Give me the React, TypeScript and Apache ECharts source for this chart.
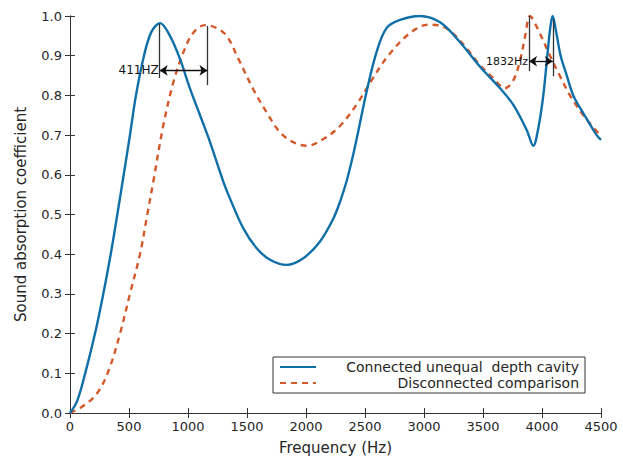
import React, { useEffect, useRef } from "react";
import * as echarts from "echarts";

const FONT = "DejaVu Sans";

const seriesNames = ["Connected unequal  depth cavity", "Disconnected comparison"];

const connectedFreq = [0, 60, 127, 212, 282, 345, 401, 455, 508, 559, 627, 690, 763, 847, 932, 1017, 1102, 1186, 1299, 1356, 1469, 1582, 1695, 1836, 1977, 2119, 2232, 2288, 2345, 2401, 2443, 2514, 2599, 2684, 2797, 2966, 3136, 3305, 3475, 3644, 3757, 3870, 3926, 3970, 4011, 4045, 4070, 4090, 4120, 4158, 4210, 4265, 4360, 4463, 4500];
const connectedAbs = [0, 0.03, 0.098, 0.2, 0.3, 0.4, 0.5, 0.6, 0.7, 0.8, 0.9, 0.96, 0.982, 0.95, 0.892, 0.817, 0.75, 0.683, 0.583, 0.54, 0.465, 0.415, 0.386, 0.373, 0.39, 0.432, 0.49, 0.532, 0.585, 0.652, 0.71, 0.81, 0.91, 0.97, 0.99, 1.0, 0.984, 0.934, 0.872, 0.818, 0.776, 0.713, 0.673, 0.72, 0.8, 0.9, 0.97, 1.0, 0.96, 0.9, 0.85, 0.8, 0.75, 0.7, 0.688];

const disconnectedFreq = [0, 99, 226, 325, 424, 508, 593, 655, 706, 791, 876, 960, 1045, 1144, 1240, 1328, 1427, 1554, 1667, 1780, 1893, 2006, 2147, 2288, 2429, 2560, 2697, 2881, 3036, 3136, 3249, 3362, 3475, 3588, 3686, 3757, 3814, 3856, 3898, 3960, 4068, 4150, 4237, 4350, 4463, 4500];
const disconnectedAbs = [0, 0.015, 0.048, 0.105, 0.2, 0.3, 0.4, 0.5, 0.583, 0.725, 0.833, 0.908, 0.958, 0.977, 0.97, 0.95, 0.892, 0.815, 0.757, 0.707, 0.682, 0.673, 0.69, 0.723, 0.777, 0.84, 0.9, 0.957, 0.978, 0.976, 0.955, 0.918, 0.876, 0.843, 0.818, 0.838, 0.888, 0.947, 1.0, 0.97, 0.9, 0.85, 0.8, 0.75, 0.71, 0.7];

// annotation: [freq, top value, bottom value]
const markerVerticals = [
  [760, 0.98, 0.844],
  [1165, 0.975, 0.826],
  [3890, 1.0, 0.861],
  [4092, 0.99, 0.848],
];
// annotation arrows: [label, from freq, to freq, value, font size]
const markerArrows: [string, number, number, number, number][] = [
  ["411HZ", 760, 1165, 0.863, 12],
  ["1832Hz", 3890, 4092, 0.886, 11],
];

const xTicks = { min: 0, max: 4500, interval: 500 };
const yTicks = { min: 0, max: 1, interval: 0.1 };

function pairs(xs: number[], ys: number[]) {
  return xs.map((x, i) => [x, ys[i]]);
}

export default function App() {
  const ref = useRef<HTMLDivElement>(null);
  useEffect(() => {
    if (!ref.current) return;
    const chart = echarts.init(ref.current, undefined, { renderer: "svg" });
    const axisLine = { show: true, lineStyle: { color: "#333", width: 1 } };
    const tick = { show: true, inside: true, length: 5, lineStyle: { color: "#333", width: 1 } };
    const markLineData: any[] = [];
    markerVerticals.forEach(([f, a, b]) => {
      markLineData.push([
        { coord: [f, a], symbol: "none", lineStyle: { color: "#333", width: 1.3, type: "solid" }, label: { show: false } },
        { coord: [f, b], symbol: "none" },
      ]);
    });
    markerArrows.forEach(([name, f1, f2, v, fs]) => {
      markLineData.push([
        {
          name,
          coord: [f1, v],
          symbol: "arrow",
          lineStyle: { color: "#111", width: 1.3, type: "solid" },
          label: {
            show: true,
            position: "start",
            formatter: name,
            distance: 1,
            fontSize: fs,
            fontFamily: FONT,
            color: "#111",
          },
        },
        { coord: [f2, v], symbol: "arrow" },
      ]);
    });

    chart.setOption({
      animation: false,
      backgroundColor: "#fff",
      grid: { left: 70, right: 22, top: 16, bottom: 44, containLabel: false },
      xAxis: [
        {
          type: "value",
          ...xTicks,
          position: "bottom",
          axisLine,
          axisTick: tick,
          splitLine: { show: false },
          axisLabel: { fontSize: 13, fontFamily: FONT, color: "#262626", margin: 7, formatter: (v: number) => String(v) },
          name: "Frequency (Hz)",
          nameLocation: "middle",
          nameGap: 27,
          nameTextStyle: { fontSize: 15, fontFamily: FONT, color: "#262626" },
        },
        {
          type: "value",
          ...xTicks,
          position: "top",
          axisLine,
          axisTick: tick,
          splitLine: { show: false },
          axisLabel: { show: false },
        },
      ],
      yAxis: [
        {
          type: "value",
          ...yTicks,
          position: "left",
          axisLine,
          axisTick: tick,
          splitLine: { show: false },
          axisLabel: {
            fontSize: 13,
            fontFamily: FONT,
            color: "#262626",
            margin: 8,
            formatter: (v: number) => v.toFixed(1),
          },
          name: "Sound absorption coefficient",
          nameLocation: "middle",
          nameGap: 42,
          nameTextStyle: { fontSize: 15, fontFamily: FONT, color: "#262626" },
        },
        {
          type: "value",
          ...yTicks,
          position: "right",
          axisLine,
          axisTick: tick,
          splitLine: { show: false },
          axisLabel: { show: false },
        },
      ],
      legend: {
        orient: "vertical",
        right: 38,
        top: 357,
        itemWidth: 36,
        itemHeight: 14,
        itemGap: 2,
        padding: [3, 6, 3, 6],
        borderColor: "#333",
        borderWidth: 1,
        backgroundColor: "#fff",
        itemStyle: { opacity: 0 },
        data: seriesNames,
        formatter: (name: string) => `{t|${name}}`,
        textStyle: {
          rich: {
            t: { width: 258, align: "right", fontSize: 14, fontFamily: FONT, color: "#262626" },
          },
        },
      },
      series: [
        {
          name: seriesNames[0],
          type: "line",
          xAxisIndex: 0,
          yAxisIndex: 0,
          data: pairs(connectedFreq, connectedAbs),
          smooth: 0.35,
          symbol: "none",
          lineStyle: { color: "#0f6fa8", width: 2.4 },
          itemStyle: { color: "#0f6fa8" },
          z: 3,
          markLine: { silent: true, symbolSize: 8, data: markLineData },
        },
        {
          name: seriesNames[1],
          type: "line",
          xAxisIndex: 0,
          yAxisIndex: 0,
          data: pairs(disconnectedFreq, disconnectedAbs),
          smooth: 0.35,
          symbol: "none",
          lineStyle: { color: "#d4592a", width: 2.4, type: [6, 5] },
          itemStyle: { color: "#d4592a" },
          z: 2,
        },
      ],
    });
    return () => chart.dispose();
  }, []);
  return (
    <div
      ref={ref}
      style={{ position: "fixed", left: 0, top: 0, width: 623, height: 460, background: "#fff" }}
    />
  );
}
